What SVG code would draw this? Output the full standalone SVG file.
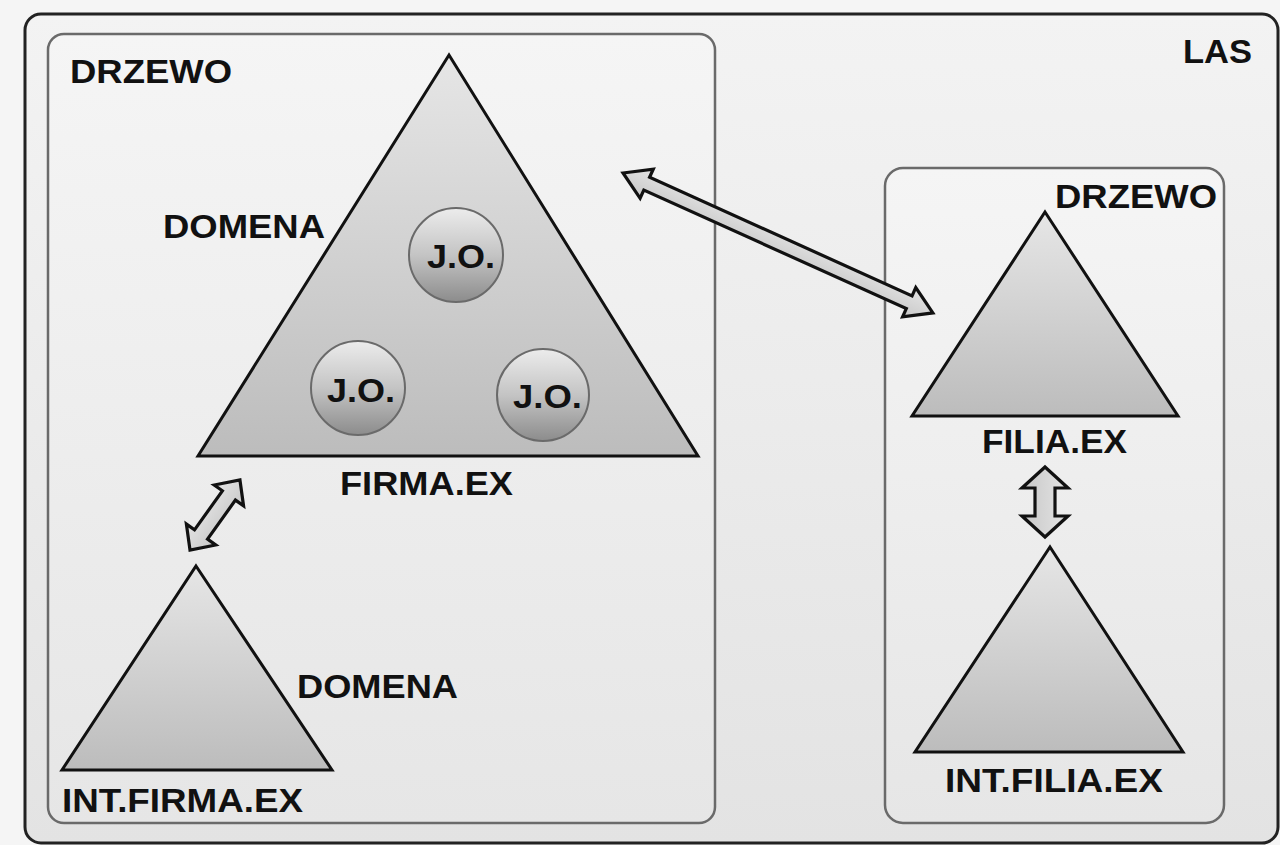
<svg xmlns="http://www.w3.org/2000/svg" width="1280" height="845" viewBox="0 0 1280 845">
<defs>
<linearGradient id="gLas" x1="0" y1="0" x2="0" y2="1"><stop offset="0" stop-color="#f3f3f3"/><stop offset="1" stop-color="#e3e3e3"/></linearGradient>
<linearGradient id="gBox" x1="0" y1="0" x2="0" y2="1"><stop offset="0" stop-color="#f5f5f5"/><stop offset="1" stop-color="#e6e6e6"/></linearGradient>
<linearGradient id="gTri" x1="0" y1="0" x2="0" y2="1"><stop offset="0" stop-color="#e6e6e6"/><stop offset="1" stop-color="#bcbcbc"/></linearGradient>
<linearGradient id="gCirc" x1="0" y1="0" x2="0" y2="1"><stop offset="0" stop-color="#ececec"/><stop offset="0.5" stop-color="#c4c4c4"/><stop offset="1" stop-color="#8c8c8c"/></linearGradient>
<linearGradient id="gArr" x1="0" y1="0" x2="0" y2="1"><stop offset="0" stop-color="#e4e4e4"/><stop offset="1" stop-color="#c8c8c8"/></linearGradient>
</defs>
<style>
.lbl{font-family:"Liberation Sans",Arial,sans-serif;font-weight:bold;font-size:33px;fill:#111;}
.tri{fill:url(#gTri);stroke:#111;stroke-width:3;stroke-linejoin:miter;}
.circ{fill:url(#gCirc);stroke:#6a6a6a;stroke-width:2;}
.box{fill:url(#gBox);stroke:#6a6a6a;stroke-width:2.5;}
.arr{fill:url(#gArr);stroke:#111;stroke-width:3.2;stroke-linejoin:miter;}
</style>
<rect x="0" y="0" width="1280" height="845" fill="#f5f5f5"/>
<g id="las">
<rect x="25" y="14" width="1253" height="829" rx="16" fill="url(#gLas)" stroke="#222" stroke-width="3"/>
<text class="lbl" x="1183" y="63" textLength="69" lengthAdjust="spacingAndGlyphs">LAS</text>
</g>
<g id="drzewo-left">
<rect class="box" x="48" y="34" width="667" height="789" rx="16"/>
<text class="lbl" x="70" y="83" textLength="162" lengthAdjust="spacingAndGlyphs">DRZEWO</text>
</g>
<g id="drzewo-right">
<rect class="box" x="885" y="168" width="339" height="655" rx="18"/>
<text class="lbl" x="1055" y="208" textLength="162" lengthAdjust="spacingAndGlyphs">DRZEWO</text>
</g>
<g id="firma">
<polygon class="tri" points="449,55 698,456 198,456"/>
<text class="lbl" x="163" y="238" textLength="162" lengthAdjust="spacingAndGlyphs">DOMENA</text>
<text class="lbl" x="340" y="495" textLength="173" lengthAdjust="spacingAndGlyphs">FIRMA.EX</text>
</g>
<g id="jo1">
<circle class="circ" cx="456" cy="255" r="47"/>
<text class="lbl" x="427" y="268" textLength="68" lengthAdjust="spacingAndGlyphs">J.O.</text>
</g>
<g id="jo2">
<circle class="circ" cx="358" cy="388" r="47"/>
<text class="lbl" x="327" y="402" textLength="68" lengthAdjust="spacingAndGlyphs">J.O.</text>
</g>
<g id="jo3">
<circle class="circ" cx="543" cy="395" r="46"/>
<text class="lbl" x="513" y="408" textLength="69" lengthAdjust="spacingAndGlyphs">J.O.</text>
</g>
<g id="int-firma">
<polygon class="tri" points="196,566 332,770 62,770"/>
<text class="lbl" x="297" y="698" textLength="161" lengthAdjust="spacingAndGlyphs">DOMENA</text>
<text class="lbl" x="62" y="812" textLength="241" lengthAdjust="spacingAndGlyphs">INT.FIRMA.EX</text>
</g>
<g id="filia">
<polygon class="tri" points="1045,212 1178,416 912,416"/>
<text class="lbl" x="982" y="453" textLength="145" lengthAdjust="spacingAndGlyphs">FILIA.EX</text>
</g>
<g id="int-filia">
<polygon class="tri" points="1050,547 1183,752 915,752"/>
<text class="lbl" x="945" y="792" textLength="218" lengthAdjust="spacingAndGlyphs">INT.FILIA.EX</text>
</g>
<g id="connectors">
<polygon class="arr" transform="translate(623,173) rotate(24.3)" points="0,0 26,-16 26,-7 314,-7 314,-16 340,0 314,16 314,7 26,7 26,16"/>
<polygon class="arr" transform="translate(190,550) rotate(-54.5)" points="0,0 19,-18 19,-8 67,-8 67,-18 86,0 67,18 67,8 19,8 19,18"/>
<polygon class="arr" transform="translate(1045,467) rotate(90)" points="0,0 21,-23 21,-10 49,-10 49,-23 70,0 49,23 49,10 21,10 21,23"/>
</g>
</svg>
